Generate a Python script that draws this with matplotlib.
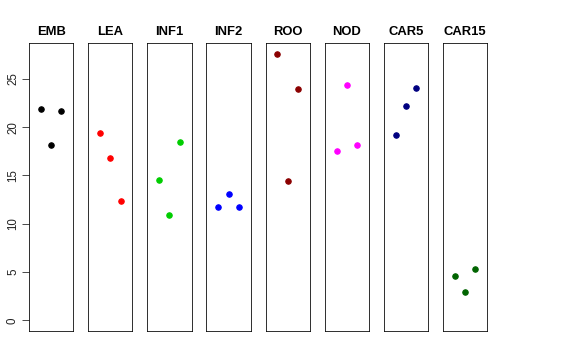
import matplotlib
matplotlib.use("Agg")
import matplotlib.pyplot as plt

categories = ["EMB", "LEA", "INF1", "INF2", "ROO", "NOD", "CAR5", "CAR15"]
colors = ["black", "red", "#00CD00", "blue", "#8B0000", "magenta", "#000080", "#006400"]
positions = [1, 2, 3]
values = {
    "EMB": [21.9, 18.1, 21.7],
    "LEA": [19.4, 16.8, 12.3],
    "INF1": [14.55, 10.9, 18.5],
    "INF2": [11.7, 13.1, 11.7],
    "ROO": [27.6, 14.45, 23.95],
    "NOD": [17.5, 24.4, 18.1],
    "CAR5": [19.2, 22.2, 24.0],
    "CAR15": [4.6, 2.9, 5.3],
}
yticks = [0, 5, 10, 15, 20, 25]

plt.rcParams['font.family'] = ['Liberation Sans', 'DejaVu Sans']
W, H = 576, 360
fig = plt.figure(figsize=(W / 72, H / 72), dpi=72)

ymax = 27.6
ypad = ymax * 0.04
left0, step, width = 29.0, 59.14, 44.3
top, bottom = 43.0, 331.0

for i, (cat, col) in enumerate(zip(categories, colors)):
    ax = fig.add_axes([(left0 + step * i) / W, (H - bottom) / H, width / W, (bottom - top) / H])
    ax.plot(positions, values[cat], 'o', color=col, ms=5.5, mec=col)
    ax.set_xlim(-0.16, 4.16)
    ax.set_ylim(-ypad, ymax + ypad)
    ax.set_xticks([])
    for s in ax.spines.values():
        s.set_linewidth(0.8)
        s.set_color('black')
    ax.set_title(cat, fontsize=13, fontweight='bold', pad=7.5)
    if i == 0:
        ax.set_yticks(yticks)
        ax.set_yticklabels([str(t) for t in yticks], rotation=90, va='center', fontsize=11.5)
        ax.tick_params(axis='y', length=7, width=0.8, pad=3, colors='#222222')
    else:
        ax.set_yticks([])

fig.savefig("out.png", dpi=72)
